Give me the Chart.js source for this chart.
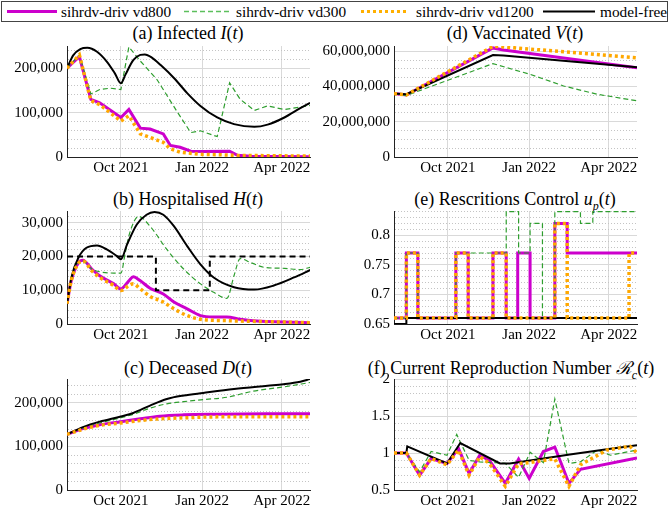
<!DOCTYPE html>
<html>
<head>
<meta charset="utf-8">
<script src="https://cdn.jsdelivr.net/npm/chart.js@4.4.1/dist/chart.umd.min.js"></script>
<style>
    body { margin: 0; background: #fff; width: 670px; height: 510px; position: relative; overflow: hidden; font-family: "Liberation Serif", serif; color: #000; }
    canvas { position: absolute; }
    .title { position: absolute; height: 22px; line-height: 22px; font-size: 18px; white-space: nowrap; transform: translateX(-50%); }
    #legend { position: absolute; left: 1px; top: 1px; width: 665px; height: 19px; border: 1px solid #444; font-size: 15.3px; }
    #legend span { position: absolute; top: 0; line-height: 19px; white-space: nowrap; }
    #legend svg { position: absolute; top: 0; }
</style>
</head>
<body>
<div id="legend">
    <svg style="left:5px" width="50" height="19"><line x1="0" y1="9.5" x2="50" y2="9.5" stroke="#cc00cc" stroke-width="3"/></svg>
    <span style="left:59px">sihrdv-driv vd800</span>
    <svg style="left:182px" width="48" height="19"><line x1="0" y1="9.5" x2="48" y2="9.5" stroke="#5cbf5c" stroke-width="1.3" stroke-dasharray="5,3"/></svg>
    <span style="left:234px">sihrdv-driv vd300</span>
    <svg style="left:359px" width="46" height="19"><line x1="0" y1="9.5" x2="46" y2="9.5" stroke="#ffb000" stroke-width="3" stroke-dasharray="3,3"/></svg>
    <span style="left:414px">sihrdv-driv vd1200</span>
    <svg style="left:541px" width="52" height="19"><line x1="0" y1="9.5" x2="52" y2="9.5" stroke="#000" stroke-width="2"/></svg>
    <span style="left:598px">model-free</span>
</div>

<div class="title" style="left:188px;top:22px">(a) Infected <i>I</i>(<i>t</i>)</div>
<div class="title" style="left:188px;top:188px">(b) Hospitalised <i>H</i>(<i>t</i>)</div>
<div class="title" style="left:188px;top:357px">(c) Deceased <i>D</i>(<i>t</i>)</div>
<div class="title" style="left:515px;top:22px">(d) Vaccinated <i>V</i>(<i>t</i>)</div>
<div class="title" style="left:515px;top:188px">(e) Rescritions Control <i>u<sub style="font-size:12px">p</sub></i>(<i>t</i>)</div>
<div class="title" style="left:511px;top:357px">(f) Current Reproduction Number <i>ℛ<sub style="font-size:12px">c</sub></i>(<i>t</i>)</div>

<canvas id="chartA" width="320" height="146" style="left:0;top:33px"></canvas>
<canvas id="chartB" width="320" height="148" style="left:0;top:198px"></canvas>
<canvas id="chartC" width="320" height="144" style="left:0;top:366px"></canvas>
<canvas id="chartD" width="325" height="146" style="left:322px;top:33px"></canvas>
<canvas id="chartE" width="325" height="148" style="left:322px;top:198px"></canvas>
<canvas id="chartF" width="325" height="144" style="left:322px;top:366px"></canvas>

<script>
// days counted from 1 Aug 2021
const DAY_MAX = 275;
const DAY_TICKS = [61, 153, 243];
const DAY_LABELS = ['Oct 2021', 'Jan 2022', 'Apr 2022'];

// (a) infected
const INF_VD800 = [[0,200000],[14,226000],[27,130000],[37,122000],[61,89000],[70,107000],[83,65000],[94,63000],[109,52000],[117,26000],[128,22000],[140,13000],[154,12600],[184,13000],[193,3700],[208,1500],[275,700]];
const INF_VD300 = [[0,200000],[14,230000],[27,142000],[37,152000],[49,155000],[61,152000],[70,248000],[83,216000],[102,174000],[124,104000],[140,55000],[151,59000],[170,46000],[184,167000],[196,130000],[212,105000],[227,115000],[246,107000],[275,116000]];
const INF_VD1200 = [[0,200000],[14,230000],[27,127000],[37,118000],[61,81000],[70,93000],[83,52000],[94,44000],[109,33000],[117,18500],[128,11000],[151,6000],[174,5000],[189,3700],[275,2000]];
const INF_FREE = [[0,200000],[7,229000],[15,243000],[23,246000],[34,237000],[45,215000],[54,189000],[61,166000],[66,185000],[75,218000],[83,230000],[88,231000],[96,224000],[106,207000],[121,178000],[136,144000],[151,115000],[170,89000],[189,74000],[212,68000],[227,73000],[246,89000],[264,110000],[275,122000]];

// (b) hospitalised
const HOS_VD800 = [[0,6000],[5,13000],[13,18200],[18,18900],[28,16300],[37,14300],[53,11900],[61,10400],[70,12800],[75,14000],[83,12800],[94,10600],[109,8900],[121,6500],[136,4500],[151,2500],[166,2100],[181,2100],[196,1400],[219,800],[275,400]];
const HOS_VD300 = [[0,6000],[5,13000],[13,18400],[18,18700],[28,16300],[37,15500],[53,15100],[61,15100],[66,21200],[71,27000],[81,31900],[94,29000],[113,22100],[132,16300],[151,11900],[166,9400],[181,7600],[189,14300],[196,19400],[208,18200],[223,16800],[246,16500],[264,16100],[275,16800]];
const HOS_VD1200 = [[0,6000],[5,13000],[13,18000],[18,18700],[28,15800],[37,13800],[53,11400],[61,9900],[70,11400],[75,11900],[83,10400],[94,8200],[109,6500],[121,4500],[136,2500],[151,1400],[181,1000],[275,400]];
const HOS_FREE = [[0,6000],[5,13800],[13,19700],[22,22600],[34,23300],[45,22100],[56,20200],[61,19200],[68,23600],[79,29500],[90,32400],[99,33200],[109,32400],[121,29000],[136,23100],[151,17700],[166,13800],[189,10900],[212,10200],[234,11400],[257,13800],[276,16100]];
const HOS_LIMIT = [[0,20000],[100.6,10000],[161.6,20000],[275,20000]];

// (c) deceased
const DEC_VD800 = [[0,128000],[18,141000],[37,150000],[61,157000],[83,163500],[105,169600],[132,172600],[170,174000],[227,175000],[275,175000]];
const DEC_VD300 = [[0,128000],[18,142000],[37,154000],[61,166000],[75,174000],[94,188000],[113,198000],[132,203000],[154,207600],[181,213000],[208,226000],[227,232000],[246,237000],[275,247000]];
const DEC_VD1200 = [[0,128000],[18,139500],[37,148500],[61,154000],[83,159700],[105,163500],[132,165800],[170,168000],[275,168000]];
const DEC_FREE = [[0,128000],[18,144500],[37,157000],[61,169000],[75,177000],[94,194000],[113,209000],[132,217000],[154,223000],[189,232000],[227,239500],[245,243000],[264,248700],[275,254800]];

// (d) vaccinated
const VAC_VD800 = [[0,36000000],[14,35200000],[112,61900000],[124,60750000],[275,50600000]];
const VAC_VD300 = [[0,36000000],[14,34900000],[112,53000000],[154,46900000],[192,40300000],[230,35600000],[275,31900000]];
const VAC_VD1200 = [[0,36000000],[14,35200000],[112,62800000],[124,62500000],[275,56300000]];
const VAC_FREE = [[0,36000000],[14,35600000],[112,57900000],[124,57600000],[275,51000000]];

// (e) restrictions control, value holds until the next point
const CTL_VD800 = [[0,0.66],[14,0.77],[27,0.66],[70,0.77],[84,0.66],[112,0.77],[127,0.66],[140,0.77],[154,0.66],[182,0.82],[196,0.77],[275,0.77]];
const CTL_VD300 = [[0,0.66],[14,0.77],[27,0.66],[70,0.77],[127,0.84],[141,0.77],[154,0.82],[168,0.66],[182,0.84],[211,0.82],[225,0.84],[275,0.84]];
const CTL_VD1200 = [[0,0.66],[14,0.77],[27,0.66],[70,0.77],[84,0.66],[112,0.77],[127,0.66],[182,0.82],[196,0.66],[266,0.77],[275,0.77]];
const CTL_FREE = [[0,0.65],[14,0.66],[275,0.66]];

// (f) current reproduction number
const REP_VD800 = [[0,1],[14,1],[29,0.70],[42,0.925],[60,0.858],[73,1.06],[85,0.724],[97,0.97],[108,0.9],[126,0.59],[141,0.916],[153,0.657],[169,1.02],[182,1.08],[198,0.59],[211,0.78],[275,0.934]];
const REP_VD300 = [[0,1],[14,1],[29,0.745],[42,1.02],[60,0.97],[71,1.25],[85,0.90],[97,0.88],[126,0.86],[141,0.67],[154,1.01],[169,0.87],[182,1.73],[198,0.86],[211,0.88],[230,1.04],[245,0.97],[275,1.04]];
const REP_VD1200 = [[0,1],[14,1],[29,0.70],[42,0.925],[60,0.84],[73,1.04],[85,0.70],[97,0.95],[108,0.86],[126,0.55],[141,0.858],[153,0.87],[169,0.9],[182,0.92],[198,0.55],[211,0.84],[241,1.04],[267,1.09],[275,1.0]];
const REP_FREE = [[0,1],[14,1],[15,1.09],[60,0.858],[75,1.135],[120,0.858],[131,0.858],[154,0.90],[199,0.98],[241,1.05],[275,1.104]];

const MAJOR_GRID = '#d9d9d9';
const MINOR_GRID = '#c4c4c4';
const TICK_FONT = { family: '"Liberation Serif", serif', size: 15 };

const STYLES = {
    vd800: { borderColor: '#cc00cc', borderWidth: 3, order: 3 },
    vd300: { borderColor: '#2e9e2e', borderWidth: 1.2, borderDash: [5, 3], order: 2 },
    vd1200: { borderColor: '#ffa800', borderWidth: 3.5, borderDash: [3, 3], order: 0 },
    free: { borderColor: '#000', borderWidth: 2, order: 1 },
};

function series(data, style, extra) {
    return Object.assign({ data, pointRadius: 0, fill: false, tension: 0 }, STYLES[style], extra || {});
}

function isMajor(v, step) {
    const r = v / step;
    return Math.abs(r - Math.round(r)) < 1e-6;
}

function makeChart(id, y, datasets, yWidth, xHeight) {
    const canvas = document.getElementById(id);
    new Chart(canvas, {
        type: 'line',
        data: { datasets },
        options: {
            responsive: false,
            animation: false,
            layout: { padding: { top: 12, right: 10, left: 0, bottom: 0 } },
            plugins: { legend: { display: false }, tooltip: { enabled: false } },
            scales: {
                x: {
                    type: 'linear',
                    min: 0,
                    max: DAY_MAX,
                    afterBuildTicks: (s) => { s.ticks = DAY_TICKS.map((v) => ({ value: v })); },
                    afterFit: (s) => { s.height = xHeight; },
                    ticks: { autoSkip: false, maxRotation: 0, padding: 2, color: '#000', font: TICK_FONT,
                        callback: (v, i) => DAY_LABELS[i] },
                    grid: { color: MAJOR_GRID, drawTicks: false },
                    border: { color: '#222', width: 1 },
                },
                y: {
                    type: 'linear',
                    min: y.min,
                    max: y.max,
                    afterBuildTicks: (s) => {
                        const ticks = [];
                        const n = Math.floor((y.max - y.min) / y.minor + 1e-6);
                        for (let i = 0; i <= n; i++) {
                            ticks.push({ value: +(y.min + i * y.minor).toFixed(6) });
                        }
                        s.ticks = ticks;
                    },
                    afterFit: (s) => { s.width = yWidth; },
                    ticks: { autoSkip: false, padding: 4, color: '#000', font: TICK_FONT,
                        callback: (v) => isMajor(v - y.base, y.major) ? y.format(v) : '' },
                    grid: {
                        drawTicks: false,
                        color: (ctx) => ctx.tick && !isMajor(ctx.tick.value - y.base, y.major) ? MINOR_GRID : MAJOR_GRID,
                    },
                    border: {
                        color: '#222',
                        width: 1,
                        dash: (ctx) => ctx.tick && !isMajor(ctx.tick.value - y.base, y.major) ? [1, 2] : [],
                    },
                },
            },
        },
    });
}

const fmtInt = (v) => Math.round(v).toLocaleString('en-US');
const fmtDec = (v) => String(+v.toFixed(2));

document.addEventListener('DOMContentLoaded', () => {
    const smooth = { cubicInterpolationMode: 'monotone' };
    const stepped = { stepped: 'before' };

    makeChart('chartA', { min: 0, max: 250000, major: 100000, minor: 20000, base: 0, format: fmtInt }, [
        series(INF_VD1200, 'vd1200'),
        series(INF_FREE, 'free', smooth),
        series(INF_VD300, 'vd300'),
        series(INF_VD800, 'vd800'),
    ], 67, 22);

    makeChart('chartB', { min: 0, max: 33500, major: 10000, minor: 2000, base: 0, format: fmtInt }, [
        series(HOS_VD1200, 'vd1200', smooth),
        series(HOS_FREE, 'free', smooth),
        series(HOS_LIMIT, 'free', { stepped: 'before', borderDash: [6, 4], order: 1 }),
        series(HOS_VD300, 'vd300', smooth),
        series(HOS_VD800, 'vd800', smooth),
    ], 67, 22);

    makeChart('chartC', { min: 0, max: 255000, major: 100000, minor: 20000, base: 0, format: fmtInt }, [
        series(DEC_VD1200, 'vd1200', smooth),
        series(DEC_FREE, 'free', smooth),
        series(DEC_VD300, 'vd300', smooth),
        series(DEC_VD800, 'vd800', smooth),
    ], 67, 20);

    makeChart('chartD', { min: 0, max: 63000000, major: 20000000, minor: 5000000, base: 0, format: fmtInt }, [
        series(VAC_VD1200, 'vd1200'),
        series(VAC_FREE, 'free'),
        series(VAC_VD300, 'vd300'),
        series(VAC_VD800, 'vd800'),
    ], 72, 22);

    makeChart('chartE', { min: 0.65, max: 0.841, major: 0.05, minor: 0.01, base: 0.65, format: fmtDec }, [
        series(CTL_VD1200, 'vd1200', stepped),
        series(CTL_FREE, 'free', stepped),
        series(CTL_VD300, 'vd300', stepped),
        series(CTL_VD800, 'vd800', stepped),
    ], 72, 22);

    makeChart('chartF', { min: 0.5, max: 2, major: 0.5, minor: 0.1, base: 0.5, format: fmtDec }, [
        series(REP_VD1200, 'vd1200'),
        series(REP_FREE, 'free'),
        series(REP_VD300, 'vd300'),
        series(REP_VD800, 'vd800'),
    ], 72, 20);
});
</script>
</body>
</html>
